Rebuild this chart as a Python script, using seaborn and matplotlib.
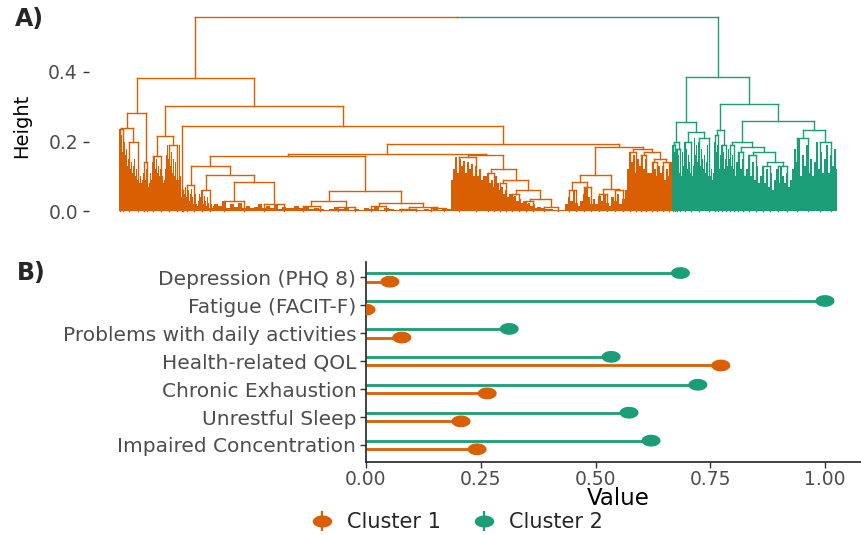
import numpy as np
import pandas as pd
import matplotlib
matplotlib.use("Agg")
import matplotlib.pyplot as plt
import seaborn as sns
from matplotlib.path import Path
from matplotlib.lines import Line2D
from matplotlib.collections import LineCollection
from matplotlib.legend_handler import HandlerTuple

# ---------------- data ----------------
# Panel B: cluster profiles (scaled 0-1)
variables = ["Depression (PHQ 8)", "Fatigue (FACIT-F)", "Problems with daily activities",
             "Health-related QOL", "Chronic Exhaustion", "Unrestful Sleep",
             "Impaired Concentration"]
cluster1 = [0.052, 0.0, 0.078, 0.773, 0.264, 0.207, 0.242]
cluster2 = [0.685, 1.0, 0.312, 0.534, 0.723, 0.573, 0.621]

# Panel A: dendrogram.
# Dense leaf groups: (number of leaves, spike heights left to right)
BUSHES = {
    # cluster 1
    "a1a": (5, [0.235, 0.2, 0.22, 0.17, 0.19]),
    "a1b": (19, [0.2, 0.16, 0.18, 0.13, 0.15, 0.17, 0.12, 0.14, 0.11, 0.13, 0.15, 0.1,
                 0.12, 0.09, 0.11, 0.08, 0.1, 0.08, 0.09]),
    "a2": (6, [0.11, 0.14, 0.09, 0.12, 0.08, 0.07]),
    "b1l": (16, [0.08, 0.11, 0.09, 0.14, 0.1, 0.158, 0.12, 0.15, 0.11, 0.13, 0.1, 0.12,
                 0.09, 0.1, 0.08, 0.09]),
    "b1r": (16, [0.12, 0.16, 0.19, 0.15, 0.18, 0.13, 0.17, 0.11, 0.15, 0.1, 0.14, 0.09,
                 0.12, 0.09, 0.19, 0.1]),
    "s1": (3, [0.04, 0.06, 0.03]),
    "c1": (14, [0.05, 0.07, 0.04, 0.075, 0.06, 0.03, 0.05, 0.065, 0.04, 0.02, 0.035, 0.05,
                0.02, 0.015]),
    "c2": (16, [0.03, 0.05, 0.04, 0.06, 0.035, 0.02, 0.045, 0.03, 0.015, 0.04, 0.025, 0.01,
                0.03, 0.02, 0.01, 0.015]),
    "c3": (40, [0.02, 0.015, 0.03, 0.01, 0.02, 0.012, 0.025, 0.008, 0.015, 0.01]),
    "c4": (40, [0.012, 0.02, 0.008, 0.015, 0.01, 0.018, 0.006, 0.012, 0.008, 0.01]),
    "c5a": (35, [0.015, 0.008, 0.012, 0.005, 0.01, 0.006, 0.004]),
    "c5b": (35, [0.006, 0.012, 0.005, 0.009, 0.004, 0.007, 0.003]),
    "c6a": (30, [0.01, 0.006, 0.015, 0.004, 0.008, 0.005]),
    "c6b": (30, [0.004, 0.006, 0.003, 0.005, 0.003, 0.004]),
    "c6c": (27, [0.005, 0.003, 0.006, 0.004, 0.008, 0.006]),
    "d1": (34, [0.09, 0.12, 0.155, 0.11, 0.15, 0.13, 0.145, 0.11, 0.14, 0.12, 0.135, 0.1,
                0.13, 0.1, 0.12, 0.09, 0.1]),
    "e1": (12, [0.1, 0.11, 0.08, 0.09, 0.07, 0.1]),
    "e2": (12, [0.08, 0.06, 0.07, 0.05, 0.06, 0.04]),
    "e3": (14, [0.05, 0.04, 0.045, 0.03, 0.035, 0.025]),
    "e4": (14, [0.03, 0.02, 0.025, 0.015, 0.02, 0.01]),
    "e5": (28, [0.012, 0.008, 0.006, 0.005, 0.004, 0.003, 0.003]),
    "g1": (15, [0.02, 0.04, 0.03, 0.06, 0.025, 0.015]),
    "g2": (15, [0.03, 0.05, 0.07, 0.04, 0.02, 0.035]),
    "g3": (16, [0.02, 0.045, 0.03, 0.05, 0.025, 0.015]),
    "g4": (16, [0.04, 0.03, 0.05, 0.02, 0.035, 0.06]),
    "f1": (12, [0.12, 0.17, 0.14, 0.16, 0.11, 0.15]),
    "f2": (10, [0.13, 0.16, 0.12, 0.15, 0.11]),
    "f3": (11, [0.11, 0.14, 0.12, 0.1, 0.13]),
    "f4": (12, [0.11, 0.13, 0.09, 0.12, 0.1, 0.14]),
    # cluster 2
    "h1": (4, [0.19, 0.15, 0.17, 0.12]),
    "h2": (6, [0.18, 0.14, 0.16, 0.11, 0.13, 0.1]),
    "h3": (12, [0.17, 0.13, 0.2, 0.15, 0.18, 0.12, 0.16, 0.14, 0.11, 0.15, 0.1, 0.13]),
    "h4": (20, [0.21, 0.16, 0.19, 0.14, 0.2, 0.17, 0.13, 0.18, 0.15, 0.12, 0.16, 0.11,
                0.14, 0.19, 0.1, 0.13, 0.1, 0.12, 0.09, 0.11]),
    "h5": (6, [0.2, 0.22, 0.17, 0.19, 0.14, 0.12]),
    "h6": (8, [0.16, 0.19, 0.13, 0.17, 0.12, 0.15, 0.1, 0.13]),
    "h7": (8, [0.18, 0.15, 0.19, 0.13, 0.16, 0.12, 0.14, 0.1]),
    "h8": (10, [0.14, 0.17, 0.12, 0.15, 0.1]),
    "h9": (14, [0.12, 0.16, 0.1, 0.14, 0.09, 0.13, 0.08]),
    "h10": (14, [0.1, 0.13, 0.08, 0.12, 0.07, 0.11, 0.06]),
    "h11": (18, [0.09, 0.12, 0.08, 0.13, 0.1, 0.08, 0.11, 0.07, 0.09]),
    "h12": (22, [0.12, 0.18, 0.14, 0.21, 0.1, 0.16, 0.13, 0.19, 0.11, 0.15, 0.1]),
    "h13": (23, [0.14, 0.2, 0.12, 0.17, 0.11, 0.15, 0.19, 0.11, 0.16, 0.13, 0.18, 0.12]),
}

# Merges: (height, left, right)
CLUSTER1_TREE = (0.383,
    (0.282, (0.240, "a1a", "a1b"), "a2"),
    (0.302,
        (0.216, "b1l", "b1r"),
        (0.245, "s1",
            (0.193,
                (0.164,
                    (0.159,
                        (0.130, "c1", (0.104, "c2", (0.085, "c3", "c4"))),
                        (0.058, (0.030, "c5a", "c5b"), (0.025, "c6a", (0.012, "c6b", "c6c")))),
                    (0.162, "d1", (0.120, "e1", (0.090, "e2", (0.060, "e3", (0.035, "e4", "e5")))))),
                (0.185,
                    (0.104, (0.085, "g1", "g2"), (0.065, "g3", "g4")),
                    (0.180, "f1", (0.170, "f2", (0.150, "f3", "f4"))))))))

CLUSTER2_TREE = (0.386,
    (0.256, (0.200, "h1", "h2"), (0.227, "h3", "h4")),
    (0.308, (0.233, "h5", "h6"),
        (0.259, (0.200, "h7", (0.185, "h8", (0.170, "h9", (0.140, "h10", "h11")))),
            (0.233, "h12", "h13"))))

ROOT_HEIGHT = 0.558

ORANGE = "#D95F02"
GREEN = "#1B9E77"
palette = {"Cluster 1": ORANGE, "Cluster 2": GREEN}

# ---------------- style ----------------
sns.set_theme(style="white")
plt.rcParams["font.family"] = ["DejaVu Sans"]

W, H = 862, 535
fig = plt.figure(figsize=(W / 100, H / 100), dpi=100)


def px_rect(left, top, right, bottom):
    return [left / W, 1 - bottom / H, (right - left) / W, (bottom - top) / H]


# ---------------- panel A: dendrogram ----------------
ax1 = fig.add_axes(px_rect(89, 7, 845, 221))

segments, seg_colors, bars = [], [], []


def place(node, start, color):
    if isinstance(node, str):
        n, prof = BUSHES[node]
        bars.append((start, n, prof, color))
        return start + n / 2, max(prof), start + n
    h, left, right = node
    xl, hl, mid = place(left, start, color)
    xr, hr, end = place(right, mid, color)
    for s in [((xl, hl), (xl, h)), ((xr, hr), (xr, h)), ((xl, h), (xr, h))]:
        segments.append(s)
        seg_colors.append(color)
    return (xl + xr) / 2, h, end


xo, ho, split = place(CLUSTER1_TREE, 0, ORANGE)
xg, hg, total = place(CLUSTER2_TREE, split, GREEN)
xm = (xo + xg) / 2
for s, c in [(((xo, ho), (xo, ROOT_HEIGHT)), ORANGE), (((xo, ROOT_HEIGHT), (xm, ROOT_HEIGHT)), ORANGE),
             (((xm, ROOT_HEIGHT), (xg, ROOT_HEIGHT)), GREEN), (((xg, hg), (xg, ROOT_HEIGHT)), GREEN)]:
    segments.append(s)
    seg_colors.append(c)

for start, n, prof, color in bars:
    xs = start + np.arange(n) + 0.5
    hs = np.asarray(prof)[(np.arange(n) * len(prof)) // n]
    ax1.bar(xs, hs, width=1.0, color=color, linewidth=0)
    top = max(prof)
    x0, x1 = start + n * 0.25, start + n * 0.75
    for s in [((x0, 0), (x0, top)), ((x1, 0), (x1, top)), ((x0, top), (x1, top))]:
        segments.append(s)
        seg_colors.append(color)

ax1.add_collection(LineCollection(segments, colors=seg_colors, linewidths=1.0,
                                  capstyle="projecting"))
ax1.set_xlim(-30, 726)
ax1.set_ylim(-0.028, 0.586)
ax1.set_yticks([0.0, 0.2, 0.4])
ax1.set_yticklabels(["0.0", "0.2", "0.4"])
ax1.set_xticks([])
for sp in ax1.spines.values():
    sp.set_visible(False)
ax1.tick_params(axis="y", left=True, length=4, width=1.0, color="#333333",
                labelcolor="#4D4D4D", labelsize=13.5, pad=4)
fig.text(22 / W, 1 - 126 / H, "Height", rotation=90, ha="center", va="center",
         fontsize=14, color="black")

# ---------------- panel B: lollipops ----------------
ax2 = fig.add_axes(px_rect(366, 262, 862, 462))
df = pd.DataFrame({
    "Variable": variables * 2,
    "Cluster": ["Cluster 1"] * len(variables) + ["Cluster 2"] * len(variables),
    "Value": cluster1 + cluster2,
})
offset = df["Cluster"].map({"Cluster 1": 0.155, "Cluster 2": -0.155})
df["row"] = df["Variable"].map({v: i for i, v in enumerate(variables)}) + offset

theta = np.linspace(0, 2 * np.pi, 61)
ellipse = Path(np.column_stack([np.cos(theta), 0.62 * np.sin(theta)]), closed=True)

ax2.hlines(df["row"], 0, df["Value"], colors=df["Cluster"].map(palette), linewidth=2.0, zorder=2)
sns.scatterplot(data=df, x="Value", y="row", hue="Cluster", palette=palette, marker=ellipse,
                s=187, linewidth=0, legend=False, ax=ax2, zorder=3)

ax2.set_xlim(0, 1.0806)
ax2.set_ylim(6.61, -0.55)
ax2.set_xticks([0, 0.25, 0.5, 0.75, 1.0])
ax2.set_xticklabels(["0.00", "0.25", "0.50", "0.75", "1.00"])
ax2.set_yticks(range(len(variables)))
ax2.set_yticklabels(variables)
ax2.set_ylabel("")
ax2.set_xlabel("Value", fontsize=16.5, color="black")
ax2.xaxis.set_label_coords((618 - 366) / (862 - 366), -0.125)
for side in ["top", "right"]:
    ax2.spines[side].set_visible(False)
for side in ["left", "bottom"]:
    ax2.spines[side].set_color("#222222")
    ax2.spines[side].set_linewidth(1.2)
ax2.tick_params(axis="both", length=4, width=1.0, color="#333333", labelcolor="#4D4D4D",
                left=True, bottom=True)
ax2.tick_params(axis="y", labelsize=14.5, pad=3)
ax2.tick_params(axis="x", labelsize=13.5, pad=2)

# legend
handles = []
for c in [ORANGE, GREEN]:
    handles.append((Line2D([], [], marker="|", color=c, markersize=15, markeredgewidth=1.6, ls=""),
                    Line2D([], [], marker=ellipse, color=c, markersize=14, markeredgewidth=0, ls="")))
fig.legend(handles, ["Cluster 1", "Cluster 2"], handler_map={tuple: HandlerTuple(ndivide=1, pad=0)},
           loc="center", bbox_to_anchor=(455 / W, 1 - 522 / H), ncol=2, frameon=False,
           fontsize=15, handletextpad=0.5, columnspacing=1.4, handlelength=1.4)

# panel tags
fig.text(15 / W, 1 - 19 / H, "A)", fontsize=17, fontweight="bold", ha="left", va="center")
fig.text(17 / W, 1 - 273 / H, "B)", fontsize=17, fontweight="bold", ha="left", va="center")

fig.savefig("out.png", dpi=100)
